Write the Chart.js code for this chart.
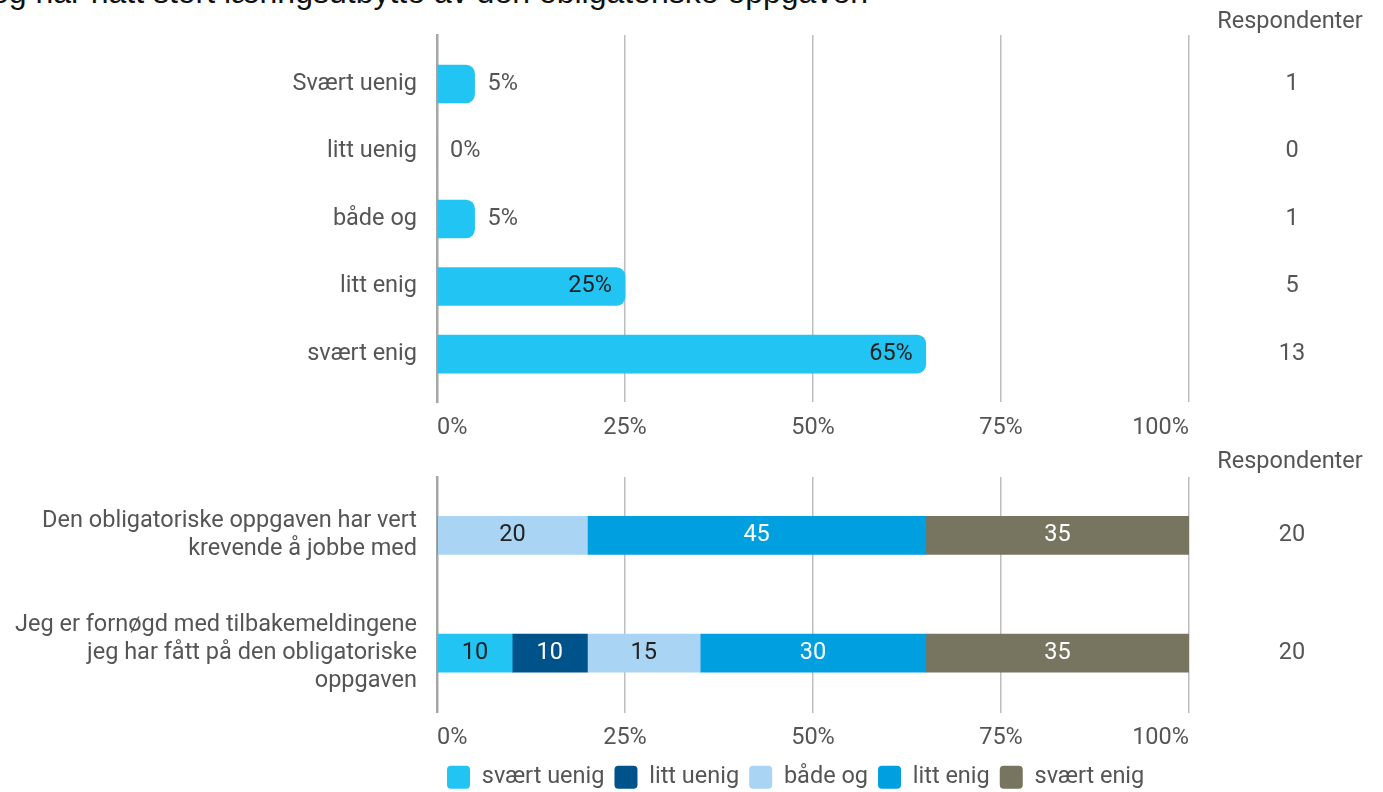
<!DOCTYPE html>
<html>
<head>
<meta charset="utf-8">
<script src="https://cdn.jsdelivr.net/npm/chart.js@4"></script>
<style>
    html, body { margin: 0; padding: 0; background: #fff; overflow: hidden; width: 1383px; height: 792px; }
    #title { position: absolute; right: 515px; top: -24px; font: 32px "Liberation Sans", Arial, sans-serif; line-height: 32px; color: #111; white-space: nowrap; }
    .box { position: absolute; left: 0; width: 1383px; }
</style>
</head>
<body>
<div id="title">Jeg har hatt stort læringsutbytte av den obligatoriske oppgaven</div>
<div class="box" style="top:0;height:440px"><canvas id="singleChart"></canvas></div>
<div class="box" style="top:440px;height:360px"><canvas id="stackChart"></canvas></div>
<script>
const categories = ['Svært uenig', 'litt uenig', 'både og', 'litt enig', 'svært enig'];
const percentValues = [5, 0, 5, 25, 65];
const respondentCounts = [1, 0, 1, 5, 13];

const statements = [
    ['Den obligatoriske oppgaven har vert', 'krevende å jobbe med'],
    ['Jeg er fornøgd med tilbakemeldingene', 'jeg har fått på den obligatoriske', 'oppgaven']
];
const answerLabels = ['svært uenig', 'litt uenig', 'både og', 'litt enig', 'svært enig'];
const stronglyDisagree = [0, 10];
const slightlyDisagree = [0, 10];
const neutral = [20, 15];
const slightlyAgree = [45, 30];
const stronglyAgree = [35, 35];
const statementRespondents = [20, 20];

const xTickValues = [0, 25, 50, 75, 100];
const answerColors = ['#22c4f4', '#00538a', '#a9d4f4', '#009fdf', '#777560'];
const darkLabelOn = ['#22c4f4', '#a9d4f4'];
const FONT_SIZE = 23.5;

Chart.defaults.font.family = 'Roboto, sans-serif';
Chart.defaults.font.size = FONT_SIZE;
Chart.defaults.color = '#555';
Chart.defaults.animation = false;
Chart.defaults.responsive = true;
Chart.defaults.maintainAspectRatio = false;

/** --- shared axis bits --- **/

function xAxis(height) {
    return {
        type: 'linear', min: 0, max: 100, stacked: true,
        afterBuildTicks: (s) => { s.ticks = xTickValues.map(v => ({ value: v })); },
        afterFit: (s) => { s.height = height; },
        ticks: { padding: 12, align: 'inner', callback: v => v + '%' },
        grid: { color: '#bdbdbd', lineWidth: 1.5, drawTicks: false },
        border: { display: false }
    };
}

function yAxis(labels, min, max, width) {
    return {
        type: 'linear', min: min, max: max, reverse: true, stacked: true, offset: false,
        afterBuildTicks: (s) => { s.ticks = labels.map((_, i) => ({ value: i })); },
        // keep the plot edges where they are, labels may reach past them
        afterFit: (s) => { s.width = width; s.paddingTop = 0; s.paddingBottom = 0; },
        ticks: { padding: 20, autoSkip: false, font: { lineHeight: 1.2 }, callback: v => labels[v] },
        grid: { display: false, drawTicks: false, offset: false },
        border: { display: true, color: '#a6a6a6', width: 2.5 }
    };
}

// "Respondenter" column at the right of each chart
function respondentPlugin(counts) {
    return {
        id: 'respondents',
        afterDraw(chart) {
            const ctx = chart.ctx;
            const y = chart.scales.y;
            ctx.save();
            ctx.font = FONT_SIZE + 'px Roboto';
            ctx.fillStyle = '#555';
            ctx.textAlign = 'center';
            ctx.textBaseline = 'middle';
            ctx.fillText('Respondenter', 1290, 22);
            counts.forEach((c, i) => ctx.fillText(String(c), 1292, y.getPixelForValue(i)));
            ctx.restore();
        }
    };
}

/** --- chart 1: single answer distribution --- **/

const percentLabels = {
    id: 'percentLabels',
    afterDatasetsDraw(chart) {
        const ctx = chart.ctx;
        const meta = chart.getDatasetMeta(0);
        ctx.save();
        ctx.font = FONT_SIZE + 'px Roboto';
        ctx.textBaseline = 'middle';
        meta.data.forEach((bar, i) => {
            const v = percentValues[i];
            if (v >= 20) {
                ctx.fillStyle = '#222';
                ctx.textAlign = 'right';
                ctx.fillText(v + '%', bar.x - 13, bar.y);
            } else {
                ctx.fillStyle = '#555';
                ctx.textAlign = 'left';
                ctx.fillText(v + '%', bar.x + 13, bar.y);
            }
        });
        ctx.restore();
    }
};

new Chart(document.getElementById('singleChart'), {
    type: 'bar',
    data: {
        datasets: [{
            data: percentValues.map((v, i) => ({ x: v, y: i })),
            backgroundColor: answerColors[0],
            borderRadius: 9,
            barThickness: 38
        }]
    },
    options: {
        indexAxis: 'y',
        layout: { padding: { top: 35, left: 0, right: 194, bottom: 0 } },
        scales: { x: xAxis(38), y: yAxis(categories, -0.725, 4.71, 437) },
        plugins: { legend: { display: false }, tooltip: { enabled: false } }
    },
    plugins: [percentLabels, respondentPlugin(respondentCounts)]
});

/** --- chart 2: stacked statements --- **/

const segmentLabels = {
    id: 'segmentLabels',
    afterDatasetsDraw(chart) {
        const ctx = chart.ctx;
        ctx.save();
        ctx.font = FONT_SIZE + 'px Roboto';
        ctx.textAlign = 'center';
        ctx.textBaseline = 'middle';
        chart.data.datasets.forEach((ds, d) => {
            chart.getDatasetMeta(d).data.forEach((bar, i) => {
                const v = ds.data[i].x;
                if (!v) return;
                ctx.fillStyle = darkLabelOn.includes(ds.backgroundColor) ? '#222' : '#fff';
                ctx.fillText(String(v), (bar.x + bar.base) / 2, bar.y);
            });
        });
        ctx.restore();
    }
};

const seriesValues = [stronglyDisagree, slightlyDisagree, neutral, slightlyAgree, stronglyAgree];

new Chart(document.getElementById('stackChart'), {
    type: 'bar',
    data: {
        datasets: seriesValues.map((vals, s) => ({
            label: answerLabels[s],
            data: vals.map((v, i) => ({ x: v, y: i })),
            backgroundColor: answerColors[s],
            barThickness: 38
        }))
    },
    options: {
        indexAxis: 'y',
        layout: { padding: { top: 37, left: 0, right: 194, bottom: 1 } },
        scales: { x: xAxis(43), y: yAxis(statements, -0.496, 1.504, 437) },
        plugins: {
            tooltip: { enabled: false },
            legend: {
                position: 'bottom',
                fullSize: false,
                align: 'start',
                labels: {
                    boxWidth: 23, boxHeight: 23, padding: 10,
                    useBorderRadius: true, borderRadius: 4,
                    color: '#555', font: { size: FONT_SIZE }
                }
            }
        }
    },
    plugins: [segmentLabels, respondentPlugin(statementRespondents)]
});
</script>
</body>
</html>
